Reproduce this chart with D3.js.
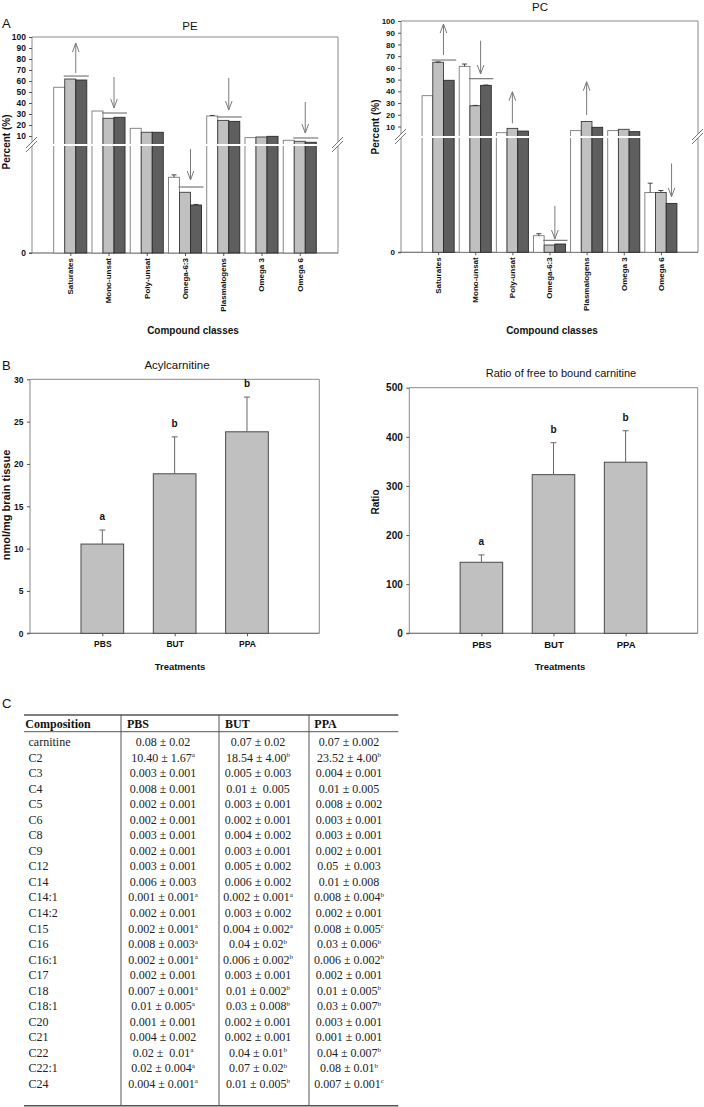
<!DOCTYPE html>
<html><head><meta charset="utf-8">
<script src="https://cdn.jsdelivr.net/npm/d3@7"></script>
<style>body{margin:0;background:#fff} svg{display:block}</style>
</head><body>
<svg id="fig" width="704" height="1107"></svg>
<script>
// ---------- DATA ----------
const compoundClasses = ["Saturates","Mono-unsat","Poly-unsat","Omega-6:3","Plasmalogens","Omega 3","Omega 6"];
const seriesNames = ["PBS","BUT","PPA"];
// PE (percent; Omega-6:3 lies in the compressed segment below the axis break)
const pePBS = [54.3, 32.7, 17.0, 1.275, 28.2, 8.5, 6.1];
const peBUT = [61.8, 26.1, 13.4, 1.022, 24.2, 9.1, 5.2];
const pePPA = [60.9, 27.0, 13.4, 0.808, 23.3, 9.7, 4.3];
const pePBSErr = [0, 0, 0, 0.04, 0.5, 0, 0];
const peBUTErr = [0, 0, 0, 0, 0, 0, 0];
const pePPAErr = [0, 0, 0, 0.01, 0, 0, 0];
// PC
const pcPBS = [36.3, 61.3, 4.7, 0.150, 6.5, 6.5, 0.541];
const pcBUT = [64.8, 27.7, 8.4, 0.066, 14.3, 7.6, 0.541];
const pcPPA = [49.4, 45.1, 6.1, 0.075, 9.3, 5.6, 0.442];
const pcPBSErr = [0, 2.0, 0, 0.018, 0, 0, 0.084];
const pcBUTErr = [0.3, 0.3, 0, 0, 0, 0, 0.018];
const pcPPAErr = [0, 0.3, 0, 0, 0, 0, 0];
// change annotations (values in data units)
const peAnnotations = [
  {cat:"Saturates",    dir:"up",   from:67.3, to:94.5, line:64.5, over:["BUT","PPA"]},
  {cat:"Mono-unsat",   dir:"down", from:63.6, to:35.5, line:30.9, over:["BUT","PPA"]},
  {cat:"Omega-6:3",    dir:"down", from:1.751, to:1.229, line:1.111, over:["BUT","PPA"]},
  {cat:"Plasmalogens", dir:"down", from:62.7, to:33.6, line:27.3, over:["BUT","PPA"]},
  {cat:"Omega 6",      dir:"down", from:40.9, to:12.7, line:8.2, over:["BUT","PPA"]}
];
const pcAnnotations = [
  {cat:"Saturates",    dir:"up",   from:71.0, to:97.4, line:66.7, over:["BUT","PPA"]},
  {cat:"Mono-unsat",   dir:"down", from:83.2, to:54.8, line:50.8, over:["BUT","PPA"]},
  {cat:"Poly-unsat",   dir:"up",   from:12.7, to:39.7, line:null, over:["BUT"]},
  {cat:"Omega-6:3",    dir:"down", from:0.420, to:0.120, line:0.108, over:["BUT","PPA"]},
  {cat:"Plasmalogens", dir:"up",   from:19.8, to:48.2, line:null, over:["BUT"]},
  {cat:"Omega 6",      dir:"down", from:0.803, to:0.502, line:null, over:["PPA"]}
];
const percentTicks = [0,10,20,30,40,50,60,70,80,90,100];

const treatments = ["PBS","BUT","PPA"];
const acylMean = [10.54, 18.84, 23.8];
const acylErr = [1.66, 4.36, 4.1];
const acylLetters = ["a","b","b"];
const acylTicks = [0,5,10,15,20,25,30];
const ratioMean = [144.6, 323, 348.3];
const ratioErr = [15, 65, 64];
const ratioLetters = ["a","b","b"];
const ratioTicks = [0,100,200,300,400,500];

const tableHeader = ["Composition","PBS","BUT","PPA"];
const rowNames = ["carnitine","C2","C3","C4","C5","C6","C8","C9","C12","C14","C14:1","C14:2","C15","C16","C16:1","C17","C18","C18:1","C20","C21","C22","C22:1","C24"];
const tablePBS = ["0.08 ± 0.02","10.40 ± 1.67^a","0.003 ± 0.001","0.008 ± 0.001","0.002 ± 0.001","0.002 ± 0.001","0.003 ± 0.001","0.002 ± 0.001","0.003 ± 0.001","0.006 ± 0.003","0.001 ± 0.001^a","0.002 ± 0.001","0.002 ± 0.001^a","0.008 ± 0.003^a","0.002 ± 0.001^a","0.002 ± 0.001","0.007 ± 0.001^a","0.01 ± 0.005^a","0.001 ± 0.001","0.004 ± 0.002","0.02 ±  0.01^a","0.02 ± 0.004^a","0.004 ± 0.001^a"];
const tableBUT = ["0.07 ± 0.02","18.54 ± 4.00^b","0.005 ± 0.003","0.01 ±  0.005","0.003 ± 0.001","0.002 ± 0.001","0.004 ± 0.002","0.003 ± 0.001","0.005 ± 0.002","0.006 ± 0.002","0.002 ± 0.001^a","0.003 ± 0.002","0.004 ± 0.002^a","0.04 ± 0.02^b","0.006 ± 0.002^b","0.003 ± 0.001","0.01 ± 0.002^b","0.03 ± 0.008^b","0.002 ± 0.001","0.002 ± 0.001","0.04 ± 0.01^b","0.07 ± 0.02^b","0.01 ± 0.005^b"];
const tablePPA = ["0.07 ± 0.002","23.52 ± 4.00^b","0.004 ± 0.001","0.01 ± 0.005","0.008 ± 0.002","0.003 ± 0.001","0.003 ± 0.001","0.002 ± 0.001","0.05  ± 0.003","0.01 ± 0.008","0.008 ± 0.004^b","0.002 ± 0.001","0.008 ± 0.005^c","0.03 ± 0.006^b","0.006 ± 0.002^b","0.002 ± 0.001","0.01 ± 0.005^b","0.03 ± 0.007^b","0.003 ± 0.001","0.001 ± 0.001","0.04 ± 0.007^b","0.08 ± 0.01^b","0.007 ± 0.001^c"];

// ---------- STYLE ----------
const SANS = "'Liberation Sans', Arial, Helvetica, sans-serif";
const SERIF = "'Liberation Serif', 'Times New Roman', Times, serif";
const fills = {PBS:"#ffffff", BUT:"#c0c0c0", PPA:"#5e5e5e"};
const strokes = {PBS:"#7a7a7a", BUT:"#3c3c3c", PPA:"#2a2a2a"};
const frameColor = "#8a8a8a";
const svg = d3.select("#fig");

function txt(g, x, y, s, size, opts = {}) {
  return g.append("text").attr("x", x).attr("y", y).text(s)
    .attr("font-family", opts.family || SANS).attr("font-size", size)
    .attr("font-weight", opts.bold ? "bold" : "normal")
    .attr("text-anchor", opts.anchor || "middle")
    .attr("fill", opts.fill || "#111");
}

// ---------- PANEL A ----------
function groupedPanel(o) {
  const g = svg.append("g");
  const x = d3.scalePoint().domain(compoundClasses).range([o.x0, o.x1]).padding(1);
  const step = x.step();
  const inner = d3.scaleBand().domain(seriesNames).range([-step * 0.432, step * 0.432]);
  const per = (o.y10 - o.yTop) / 90;
  const breakV = 10 - (o.yBreak - o.y10) / per;
  const y = d3.scaleLinear().domain([0, breakV, 100]).range([o.yBottom, o.yBreak, o.yTop]);

  // frame
  const fr = g.append("g").attr("stroke", frameColor).attr("stroke-width", 1).attr("fill", "none");
  fr.append("path").attr("d", `M${o.x0},${o.yBottom}V${o.yTop}H${o.x1}V${o.yBottom}`);
  g.append("line").attr("x1", o.x0 - 3).attr("x2", o.x1).attr("y1", o.yBottom).attr("y2", o.yBottom)
    .attr("stroke", "#555").attr("stroke-width", 1.1);

  // y axis
  const ya = g.append("g").attr("transform", `translate(${o.x0},0)`)
    .call(d3.axisLeft(y).tickValues(percentTicks).tickSize(3).tickPadding(3).tickFormat(d3.format("d")));
  ya.select(".domain").remove();
  ya.selectAll("line").attr("stroke", "#555");
  ya.selectAll("text").attr("font-family", SANS).attr("font-weight", "bold")
    .attr("font-size", o.tickSize).attr("fill", "#111");

  // x axis ticks + labels
  const xa = g.append("g").attr("transform", `translate(0,${o.yBottom})`)
    .call(d3.axisBottom(x).tickSize(3).tickFormat(""));
  xa.select(".domain").remove();
  xa.selectAll("line").attr("stroke", "#555");
  g.selectAll(".xl").data(compoundClasses).join("text")
    .attr("transform", d => `translate(${x(d)},${o.yBottom + 5}) rotate(-90)`)
    .attr("dy", "0.35em").attr("text-anchor", "end")
    .attr("font-family", SANS).attr("font-weight", "bold").attr("font-size", 8).attr("fill", "#111")
    .text(d => d);

  // bars
  const rows = [];
  compoundClasses.forEach((c, i) => {
    seriesNames.forEach((s, j) => rows.push({c, s, v: o.vals[j][i], e: o.errs[j][i]}));
  });
  const bw = inner.bandwidth();
  g.selectAll(".bar").data(rows).join("rect")
    .attr("x", d => x(d.c) + inner(d.s)).attr("width", bw)
    .attr("y", d => y(d.v)).attr("height", d => y(0) - y(d.v))
    .attr("fill", d => fills[d.s]).attr("stroke", d => strokes[d.s]).attr("stroke-width", 0.9);
  // error bars
  const eg = g.append("g").attr("stroke", "#333").attr("stroke-width", 0.9);
  rows.filter(d => d.e > 0).forEach(d => {
    const cx = x(d.c) + inner(d.s) + bw / 2;
    eg.append("line").attr("x1", cx).attr("x2", cx).attr("y1", y(d.v)).attr("y2", y(d.v + d.e));
    eg.append("line").attr("x1", cx - 2.5).attr("x2", cx + 2.5).attr("y1", y(d.v + d.e)).attr("y2", y(d.v + d.e));
  });

  // axis break: white band + // marks
  g.append("line").attr("x1", o.x0 + 1).attr("x2", o.x1 - 1).attr("y1", o.yBreak).attr("y2", o.yBreak)
    .attr("stroke", "#fff").attr("stroke-width", 2);
  [o.x0, o.x1].forEach(bx => {
    g.append("path").attr("d", `M${bx - 6},${o.yBreak + 3}L${bx + 5},${o.yBreak - 8}L${bx + 5},${o.yBreak - 4}L${bx - 6},${o.yBreak + 7}Z`)
      .attr("fill", "#fff");
    g.append("line").attr("x1", bx - 6).attr("y1", o.yBreak + 3).attr("x2", bx + 5).attr("y2", o.yBreak - 8)
      .attr("stroke", "#666").attr("stroke-width", 0.9);
    g.append("line").attr("x1", bx - 6).attr("y1", o.yBreak + 7).attr("x2", bx + 5).attr("y2", o.yBreak - 4)
      .attr("stroke", "#666").attr("stroke-width", 0.9);
  });

  // annotations
  const ag = g.append("g").attr("stroke", "#7a7a7a").attr("stroke-width", 1).attr("fill", "none");
  o.annots.forEach(a => {
    const left = x(a.cat) + inner(a.over[0]);
    const right = x(a.cat) + inner(a.over[a.over.length - 1]) + bw;
    const ax = (left + right) / 2;
    if (a.line != null) {
      ag.append("line").attr("x1", left - 1).attr("x2", right + 2).attr("y1", y(a.line)).attr("y2", y(a.line))
        .attr("stroke-width", 1.2);
    }
    const y1 = y(a.from), y2 = y(a.to);
    const s = a.dir === "up" ? 1 : -1;
    ag.append("line").attr("x1", ax).attr("x2", ax).attr("y1", y1).attr("y2", y2);
    ag.append("polyline").attr("points", `${ax - 3.3},${y2 + s * 9} ${ax},${y2} ${ax + 3.3},${y2 + s * 9}`);
  });

  // titles
  txt(g, o.titleX, o.titleY, o.title, 11.5);
  g.append("text").attr("transform", `translate(${o.ylabX},${o.ylabY}) rotate(-90)`)
    .attr("dy", "0.35em").attr("text-anchor", "middle").attr("font-family", SANS)
    .attr("font-weight", "bold").attr("font-size", 10).attr("fill", "#111").text("Percent (%)");
  txt(g, o.xlabX, o.xlabY, "Compound classes", 10, {bold: true});
}

groupedPanel({x0: 32, x1: 338, yTop: 37, y10: 136, yBreak: 145, yBottom: 253,
  vals: [pePBS, peBUT, pePPA], errs: [pePBSErr, peBUTErr, pePPAErr], annots: peAnnotations,
  title: "PE", titleX: 190, titleY: 30, ylabX: 6, ylabY: 142, xlabX: 193, xlabY: 334, tickSize: 8.5});
groupedPanel({x0: 401, x1: 698, yTop: 21, y10: 126.5, yBreak: 137, yBottom: 252.3,
  vals: [pcPBS, pcBUT, pcPPA], errs: [pcPBSErr, pcBUTErr, pcPPAErr], annots: pcAnnotations,
  title: "PC", titleX: 540, titleY: 11, ylabX: 375, ylabY: 127, xlabX: 552, xlabY: 334, tickSize: 8});
txt(svg, 2, 28, "A", 13, {anchor: "start"});

// ---------- PANEL B ----------
function simpleBar(o) {
  const g = svg.append("g");
  const x = d3.scalePoint().domain(treatments).range([o.x0, o.x1]).padding(1);
  const bw = x.step() * 0.59;
  const y = d3.scaleLinear().domain([0, d3.max(o.ticks)]).range([o.yBottom, o.yTop]);
  g.append("path").attr("d", `M${o.x0},${o.yBottom}V${o.yTop}H${o.x1}V${o.yBottom}`)
    .attr("fill", "none").attr("stroke", frameColor);
  g.append("line").attr("x1", o.x0 - 3).attr("x2", o.x1).attr("y1", o.yBottom).attr("y2", o.yBottom)
    .attr("stroke", "#555").attr("stroke-width", 1.1);
  const ya = g.append("g").attr("transform", `translate(${o.x0},0)`)
    .call(d3.axisLeft(y).tickValues(o.ticks).tickSize(3).tickPadding(3.5));
  ya.select(".domain").remove();
  ya.selectAll("line").attr("stroke", "#555");
  ya.selectAll("text").attr("font-family", SANS).attr("font-weight", "bold")
    .attr("font-size", o.tickSize).attr("fill", "#111");
  const xa = g.append("g").attr("transform", `translate(0,${o.yBottom})`)
    .call(d3.axisBottom(x).tickSize(3).tickPadding(5));
  xa.select(".domain").remove();
  xa.selectAll("line").attr("stroke", "#555");
  xa.selectAll("text").attr("font-family", SANS).attr("font-weight", "bold")
    .attr("font-size", o.xtickSize).attr("fill", "#111");

  const d = treatments.map((t, i) => ({t, v: o.mean[i], e: o.err[i], l: o.letters[i]}));
  g.selectAll(".b").data(d).join("rect")
    .attr("x", e => x(e.t) - bw / 2).attr("width", bw)
    .attr("y", e => y(e.v)).attr("height", e => y(0) - y(e.v))
    .attr("fill", "#c0c0c0").attr("stroke", "#4a4a4a").attr("stroke-width", 1);
  const eg = g.append("g").attr("stroke", "#666").attr("stroke-width", 1);
  d.forEach(e => {
    eg.append("line").attr("x1", x(e.t)).attr("x2", x(e.t)).attr("y1", y(e.v)).attr("y2", y(e.v + e.e));
    eg.append("line").attr("x1", x(e.t) - 3).attr("x2", x(e.t) + 3).attr("y1", y(e.v + e.e)).attr("y2", y(e.v + e.e));
    txt(g, x(e.t), y(e.v + e.e) - 10, e.l, 10, {bold: true});
  });
  txt(g, o.titleX, o.titleY, o.title, o.titleSize);
  g.append("text").attr("transform", `translate(${o.ylabX},${o.ylabY}) rotate(-90)`)
    .attr("dy", "0.35em").attr("text-anchor", "middle").attr("font-family", SANS)
    .attr("font-weight", "bold").attr("font-size", o.ylabSize).attr("fill", "#111").text(o.ylab);
  txt(g, o.xlabX, o.xlabY, "Treatments", 9.5, {bold: true});
}
simpleBar({x0: 30, x1: 319.3, yTop: 379.3, yBottom: 633.3, ticks: acylTicks, mean: acylMean, err: acylErr,
  letters: acylLetters, tickSize: 8.5, xtickSize: 8.5, title: "Acylcarnitine", titleX: 177, titleY: 369, titleSize: 11.5,
  ylab: "nmol/mg brain tissue", ylabX: 6, ylabY: 505, ylabSize: 11, xlabX: 180, xlabY: 669.5});
simpleBar({x0: 409.3, x1: 697.7, yTop: 387.7, yBottom: 633.3, ticks: ratioTicks, mean: ratioMean, err: ratioErr,
  letters: ratioLetters, tickSize: 10, xtickSize: 9.5, title: "Ratio of free to bound carnitine", titleX: 561, titleY: 376.5, titleSize: 11,
  ylab: "Ratio", ylabX: 375, ylabY: 502, ylabSize: 10, xlabX: 560, xlabY: 669.5});
txt(svg, 2, 370, "B", 13, {anchor: "start"});

// ---------- PANEL C (table) ----------
const tg = svg.append("g");
const tLeft = 24, tRight = 398.3, tTop = 715, tHead = 731.7, tBottom = 1105.7;
const colLines = [121, 219, 309];
const headX = [25.3, 127, 225, 314.3];
const valX = [163, 258, 349];
const rowY = d3.scalePoint().domain(rowNames).range([742.3, 1083.7]);
tg.append("line").attr("x1", tLeft).attr("x2", tRight).attr("y1", tTop).attr("y2", tTop).attr("stroke", "#555").attr("stroke-width", 1.6);
tg.append("line").attr("x1", tLeft).attr("x2", tRight).attr("y1", tHead).attr("y2", tHead).attr("stroke", "#555").attr("stroke-width", 1);
tg.append("line").attr("x1", tLeft).attr("x2", tRight).attr("y1", tBottom).attr("y2", tBottom).attr("stroke", "#555").attr("stroke-width", 1.6);
colLines.forEach(cx => tg.append("line").attr("x1", cx).attr("x2", cx).attr("y1", tTop).attr("y2", tBottom).attr("stroke", "#555").attr("stroke-width", 1));
tableHeader.forEach((h, i) => txt(tg, headX[i], 727.5, h, 12, {family: SERIF, bold: true, anchor: "start", fill: "#111"}));
rowNames.forEach(r => txt(tg, 28.5, rowY(r) + 4, r, 12, {family: SERIF, anchor: "start", fill: "#222"}));
[tablePBS, tableBUT, tablePPA].forEach((col, ci) => {
  col.forEach((s, ri) => {
    const parts = s.split("^");
    const t = tg.append("text").attr("x", valX[ci]).attr("y", rowY(rowNames[ri]) + 4)
      .attr("font-family", SERIF).attr("font-size", 12).attr("text-anchor", "middle").attr("fill", "#222")
      .style("white-space", "pre");
    t.append("tspan").text(parts[0]);
    if (parts[1]) t.append("tspan").attr("font-size", 7).attr("dy", -4.5).text(parts[1]);
  });
});
txt(svg, 2, 708, "C", 13, {anchor: "start"});
</script>
</body></html>
